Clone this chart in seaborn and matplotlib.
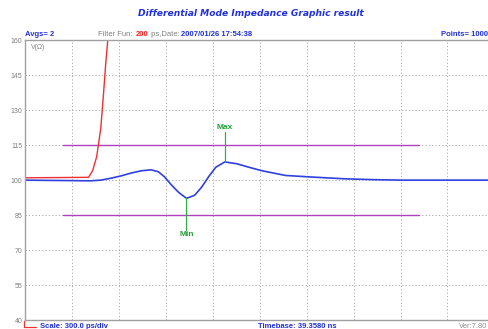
import numpy as np
import pandas as pd
import matplotlib.pyplot as plt
import seaborn as sns

# Data (time in ps, impedance in ohm)
blue_t = [0, 129, 290, 419, 484, 548, 613, 677, 742, 806, 852, 890, 935, 981,
          1032, 1084, 1129, 1174, 1219, 1277, 1355, 1432, 1516, 1665, 1839,
          2032, 2226, 2419, 2677, 3000]
blue_z = [100.0, 99.9, 99.8, 99.7, 100.0, 100.8, 101.8, 103.0, 104.0, 104.4,
          103.6, 101.5, 98.0, 94.8, 92.2, 93.5, 97.0, 101.5, 105.5, 107.8,
          107.0, 105.5, 104.0, 102.0, 101.3, 100.6, 100.2, 100.0, 100.0, 100.0]
red_t = [0, 406, 432, 458, 484, 503, 516, 529, 3000]
red_z = [101.0, 101.2, 104.0, 110.0, 122.0, 138.0, 150.0, 160.0, 160.0]
limit_t = [245, 2516]
upper_limit = 115
lower_limit = 85
yticks = [40, 55, 70, 85, 100, 115, 130, 145, 160]

blue = pd.DataFrame({"t": blue_t, "z": blue_z})
red = pd.DataFrame({"t": red_t, "z": red_z})

sns.set_style("white")
plt.rcParams['font.family'] = ['Liberation Sans', 'DejaVu Sans']

fig = plt.figure(figsize=(4.89, 3.29), dpi=100)
ax = fig.add_axes([0.0511, 0.027, 0.96, 0.851])

# purple limit lines
ax.plot(limit_t, [upper_limit, upper_limit], color="#b040c0", lw=1.0)
ax.plot(limit_t, [lower_limit, lower_limit], color="#b040c0", lw=1.0)

sns.lineplot(data=red, x="t", y="z", color="#f03030", lw=1.0, ax=ax)
sns.lineplot(data=blue, x="t", y="z", color="#3040e0", lw=1.2, ax=ax)

# Max / Min markers
gmax = blue["z"].idxmax()
gmin = blue["z"].idxmin()
ax.plot([blue_t[gmax]] * 2, [blue_z[gmax], 120.5], color="#30b040", lw=0.9)
ax.text(blue_t[gmax], 121, "Max", color="#20a030", fontsize=6, fontweight="bold",
        ha="center", va="bottom")
ax.plot([blue_t[gmin]] * 2, [blue_z[gmin], 78.5], color="#30b040", lw=0.9)
ax.text(blue_t[gmin], 78, "Min", color="#20a030", fontsize=6, fontweight="bold",
        ha="center", va="top")

ax.set_xlim(0, 3000)
ax.set_ylim(40, 160)
ax.set_xticks(np.arange(0, 3001, 300))
ax.set_yticks(yticks)
ax.set_xticklabels([])
ax.set_yticklabels([str(v) for v in yticks], fontsize=5, color="#808080")
ax.tick_params(axis="y", length=0, pad=2)
ax.tick_params(axis="x", length=0)
ax.grid(True, color="#a0a0a0", lw=0.6, ls=(0, (1.5, 2.5)))
ax.set_xlabel("")
ax.set_ylabel("")
for s in ["left", "bottom", "top"]:
    ax.spines[s].set_color("#a0a0a0")
    ax.spines[s].set_linewidth(1.0)
ax.spines["right"].set_visible(False)
ax.text(0.012, 0.985, "V(Ω)", transform=ax.transAxes, fontsize=5,
        color="#808080", va="top", ha="left")

# header texts
W, H = 489, 329
def ftxt(x, y, s, **kw):
    return fig.text(x / W, 1 - y / H, s, **kw)

ftxt(251, 14, "Differential Mode Impedance Graphic result", color="#2030e0",
     fontsize=6.6, fontstyle="italic", fontweight="bold", ha="center", va="center",
     family=["DejaVu Sans"])
ftxt(25, 34, "Avgs= 2", color="#2030e0", fontsize=5.5, fontweight="bold", va="center")

# filter / date line, pieces placed one after another
pieces = [("Filter Fun: ", "#808080", "normal"), ("200", "#f02020", "bold"),
          (" ps,Date:", "#808080", "normal"), ("2007/01/26 17:54:38", "#2030e0", "bold")]
fig.canvas.draw()
rend = fig.canvas.get_renderer()
xpos = 98
for s, c, w in pieces:
    t = ftxt(xpos, 34, s, color=c, fontsize=5.5, fontweight=w, va="center")
    xpos += t.get_window_extent(rend).width + 1

ftxt(488, 34, "Points= 1000", color="#2030e0", fontsize=5.5, fontweight="bold",
     va="center", ha="right")

# footer texts
fig.add_artist(plt.Line2D([24 / W, 24 / W, 36 / W], [1 - 321 / H, 1 - 327 / H, 1 - 327 / H],
                          color="#f03030", lw=0.9))
ftxt(40, 326, "Scale: 300.0 ps/div", color="#2030e0", fontsize=5.5,
     fontweight="bold", va="center")
ftxt(258, 326, "Timebase: 39.3580 ns", color="#2030e0", fontsize=5.5,
     fontweight="bold", va="center")
ftxt(487, 326, "Ver:7.80", color="#909090", fontsize=5.5, va="center", ha="right")

fig.savefig("out.png", dpi=100)
